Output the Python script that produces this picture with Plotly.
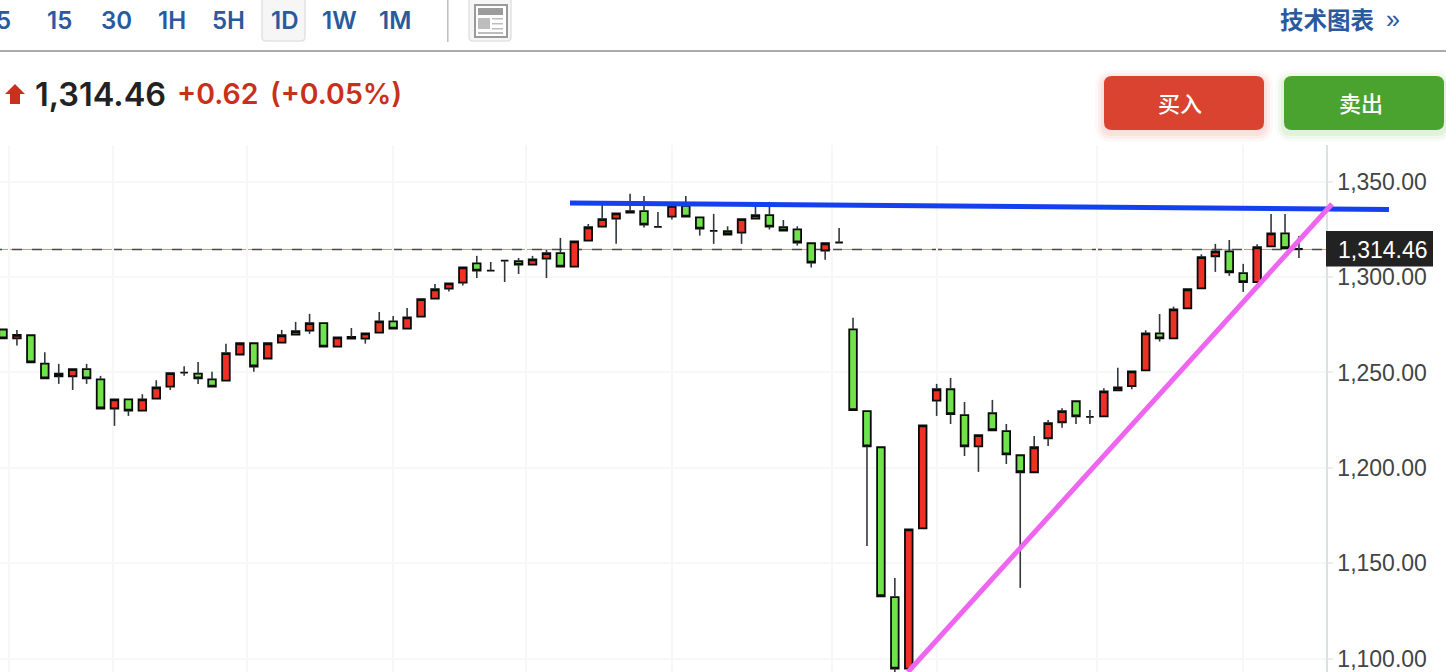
import plotly.graph_objects as go

W, H = 1446, 672

# ---------- data ----------
indices = list(range(94))
opens = [1272.5,1267.9,1269.5,1254.6,1249.4,1248.0,1251.7,1246.4,1231.1,1235.9,
         1230.0,1236.3,1242.6,1249.9,1249.4,1246.4,1245.7,1259.4,1265.3,1257.3,
         1265.6,1269.8,1271.9,1275.8,1263.5,1267.7,1267.7,1270.9,1276.8,1273.0,
         1279.3,1288.7,1293.9,1297.1,1307.2,1303.4,1308.6,1308.3,1306.5,1309.7,
         1312.5,1305.5,1319.1,1326.4,1330.6,1333.8,1334.5,1326.3,1331.7,1337.3,
         1331.3,1324.2,1324.0,1323.3,1330.6,1332.4,1326.1,1325.0,1317.7,1313.9,
         1318.1,1272.6,1229.7,1210.8,1132.2,1094.8,1168.3,1235.2,1241.2,1227.6,
         1211.3,1228.6,1219.2,1206.6,1197.7,1215.5,1223.9,1234.9,1226.7,1227.0,
         1240.6,1242.8,1251.1,1270.5,1267.9,1283.6,1294.1,1310.9,1313.5,1302.0,
         1297.3,1316.1,1322.9,1314.7]
highs = [1272.5,1272.3,1269.5,1260.6,1254.5,1251.7,1254.5,1248.2,1235.9,1235.9,
         1238.6,1245.9,1249.6,1253.2,1255.5,1250.3,1265.0,1265.3,1265.3,1265.3,
         1272.3,1276.5,1280.7,1275.8,1268.4,1273.3,1270.5,1281.7,1279.6,1283.8,
         1288.4,1296.4,1296.7,1305.1,1311.1,1307.9,1308.6,1310.0,1311.1,1314.2,
         1320.5,1318.7,1327.8,1337.8,1333.4,1343.6,1342.5,1334.1,1337.3,1342.5,
         1331.3,1333.1,1326.6,1330.3,1337.3,1339.4,1329.9,1326.6,1317.7,1317.7,
         1325.7,1278.6,1229.7,1210.8,1142.3,1167.8,1222.3,1244.0,1247.1,1234.5,
         1217.1,1235.6,1223.0,1206.6,1216.7,1225.1,1231.2,1234.9,1230.3,1241.7,
         1252.4,1250.6,1272.1,1280.6,1284.5,1293.6,1311.9,1317.4,1319.4,1306.9,
         1317.2,1333.1,1333.1,1321.5]
lows = [1267.9,1264.1,1255.3,1246.9,1244.0,1240.8,1244.0,1231.1,1222.0,1227.2,
        1230.0,1236.3,1240.8,1248.3,1244.0,1242.6,1245.7,1259.4,1250.3,1257.3,
        1265.6,1269.8,1270.2,1263.5,1263.5,1267.7,1265.1,1270.9,1273.0,1273.0,
        1279.3,1288.7,1292.4,1295.5,1299.5,1303.4,1297.4,1301.6,1306.5,1299.5,
        1305.5,1305.5,1319.1,1326.4,1317.4,1333.8,1325.9,1326.3,1330.1,1331.7,
        1321.7,1317.4,1322.3,1317.4,1330.6,1324.9,1324.3,1316.5,1305.0,1309.0,
        1318.1,1230.2,1159.1,1132.7,1093.0,1094.8,1168.3,1227.2,1223.0,1206.2,
        1197.9,1219.7,1202.0,1137.1,1197.7,1211.5,1221.0,1223.0,1223.0,1227.0,
        1240.6,1241.2,1251.1,1266.2,1267.9,1283.6,1294.1,1302.7,1300.6,1292.2,
        1297.3,1316.1,1315.1,1310.0]
closes = [1267.9,1269.7,1255.3,1246.9,1248.0,1251.7,1246.9,1231.1,1235.9,1230.0,
          1235.9,1242.2,1249.6,1249.9,1246.9,1242.6,1260.1,1265.3,1253.1,1265.3,
          1269.5,1271.6,1275.8,1263.5,1268.4,1268.6,1270.5,1276.8,1273.0,1278.9,
          1288.4,1293.6,1296.7,1305.1,1303.4,1303.4,1308.6,1306.5,1309.3,1312.5,
          1305.5,1318.7,1326.1,1330.3,1333.4,1334.5,1327.5,1326.3,1337.3,1331.7,
          1325.4,1324.2,1322.3,1330.3,1332.4,1326.4,1324.3,1318.1,1307.6,1317.7,
          1318.1,1230.2,1211.3,1132.7,1094.8,1167.8,1222.3,1241.2,1228.1,1211.3,
          1217.1,1219.7,1207.1,1197.7,1210.8,1223.4,1229.7,1227.0,1226.7,1240.1,
          1242.2,1250.6,1270.5,1267.9,1283.1,1293.6,1310.4,1313.5,1302.5,1297.3,
          1315.6,1322.9,1315.1,1314.7]

last_price = 1314.46
price_text = "1,314.46"
change_text = "+0.62"
pct_text = "(+0.05%)"
y_ticks = [1100, 1150, 1200, 1250, 1300, 1350]
x_grid = [0.43, 7.9, 17.5, 28, 37.5, 48, 59.5, 67, 78.5, 89]
blue_x, blue_y = [40.69, 99.46], [1338.8, 1335.4]
pink_x, pink_y = [64.94, 95.37], [1093.0, 1338.3]
intervals = ["5", "15", "30", "1H", "5H", "1D", "1W", "1M"]
interval_x = [3, 59, 116, 172, 228, 284, 339, 395]

# ---------- helpers ----------
def fx(x): return x / W
def fy(y): return 1 - y / H

def rrect(x0, y0, x1, y1, r, fill, line=None, lw=0):
    X0, X1, Y0, Y1 = fx(x0), fx(x1), fy(y0), fy(y1)
    rx, ry = r / W, r / H
    path = (f"M {X0+rx} {Y0} L {X1-rx} {Y0} Q {X1} {Y0} {X1} {Y0-ry} "
            f"L {X1} {Y1+ry} Q {X1} {Y1} {X1-rx} {Y1} L {X0+rx} {Y1} "
            f"Q {X0} {Y1} {X0} {Y1+ry} L {X0} {Y0-ry} Q {X0} {Y0} {X0+rx} {Y0} Z")
    return dict(type="path", path=path, xref="paper", yref="paper", fillcolor=fill,
                line=dict(color=line or "rgba(0,0,0,0)", width=lw), layer="above")

def rect(x0, y0, x1, y1, fill):
    return dict(type="rect", xref="paper", yref="paper", x0=fx(x0), x1=fx(x1), y0=fy(y0), y1=fy(y1),
                fillcolor=fill, line=dict(width=0), layer="above")

def text(s, x, y, size, color, family="Inter", weight=400, anchor="center"):
    return dict(text=s, x=fx(x), y=fy(y), xref="paper", yref="paper", showarrow=False,
                xanchor=anchor, yanchor="middle",
                font=dict(family=family, size=size, color=color, weight=weight))

# ---------- traces ----------
body_high = [max(o, c) for o, c in zip(opens, closes)]
body_low = [min(o, c) for o, c in zip(opens, closes)]

# wicks stop at the body, because scatter lines are painted over candlesticks
wick_x, wick_y = [], []
for i, h, l, bh, bl in zip(indices, highs, lows, body_high, body_low):
    if h > bh:
        wick_x += [i, i, None]
        wick_y += [bh, h, None]
    if l < bl:
        wick_x += [i, i, None]
        wick_y += [l, bl, None]

fig = go.Figure()
fig.add_trace(go.Scatter(x=wick_x, y=wick_y, mode="lines", hoverinfo="skip", showlegend=False,
                         line=dict(color="#31383d", width=1.6)))
fig.add_trace(go.Candlestick(x=indices, open=opens, high=body_high, low=body_low, close=closes,
                             showlegend=False, whiskerwidth=0,
                             increasing=dict(fillcolor="#ee3124", line=dict(color="#0a0a0a", width=1.8)),
                             decreasing=dict(fillcolor="#6fe24c", line=dict(color="#0a0a0a", width=1.8))))
fig.add_trace(go.Scatter(x=blue_x, y=blue_y, mode="lines", xaxis="x2", yaxis="y2", showlegend=False,
                         line=dict(color="#1440f0", width=5)))
fig.add_trace(go.Scatter(x=pink_x, y=pink_y, mode="lines", xaxis="x2", yaxis="y2", showlegend=False,
                         line=dict(color="#ee66f0", width=5)))

axis_right = 1326
y_range = [1093.0, 1369.2]
x_left = -0.215
x_per_px = 1 / 13.935
dom_y = [0, 1 - 145 / H]

grid = "#f7f7f8"
blue_txt = "#2a5a9e"

shapes = [
    # last price guide
    dict(type="line", xref="x domain", yref="y", x0=0, x1=1, y0=last_price, y1=last_price,
         line=dict(color="#e2897c", width=1), layer="below"),
    dict(type="line", xref="x domain", yref="y", x0=-8 / axis_right, x1=1, y0=last_price, y1=last_price,
         line=dict(color="#4a4a4a", width=1.4, dash="10px,10px"), layer="below"),
    # toolbar
    rect(0, 50, W, 52, "#ababab"),
    rrect(262, -4, 305, 41, 4, "#f6f6f6", "#e2e2e2", 1.5),
    rect(447, 0, 448.6, 42, "#c0c0c0"),
    rrect(469, -4, 511, 41, 4, "#f6f6f6", "#e2e2e2", 1.5),
    # icon
    rect(474, 4, 508, 38, "#9a9a9a"),
    rect(476, 6, 506, 36, "#ffffff"),
    rect(478, 8, 503, 15, "#9c9c9c"),
    rect(478, 18, 490, 29, "#bdbdbd"),
    rect(492, 18, 503, 19.5, "#bdbdbd"),
    rect(492, 23, 503, 24.5, "#bdbdbd"),
    rect(492, 28, 503, 29.5, "#bdbdbd"),
    rect(478, 32, 503, 34, "#bdbdbd"),
    # last price box
    rect(1326, 231, 1433, 266.5, "#222222"),
]
# arrow
ax = [15, 25, 20, 20, 10, 10, 5]
ay = [84, 94, 94, 104, 104, 94, 94]
shapes.append(dict(type="path", xref="paper", yref="paper", layer="above", fillcolor="#cc2f1c",
                   line=dict(width=0),
                   path="M " + " L ".join(f"{fx(a)} {fy(b)}" for a, b in zip(ax, ay)) + " Z"))
# button shadows and buttons
for grow, alpha in [(9, 0.035), (6, 0.05), (3, 0.07)]:
    shapes.append(rrect(1104 - grow, 76 - grow + 3, 1264 + grow, 130 + grow + 3, 8 + grow, f"rgba(217,67,48,{alpha})"))
    shapes.append(rrect(1284 - grow, 76 - grow + 3, 1444 + grow, 130 + grow + 3, 8 + grow, f"rgba(75,163,47,{alpha})"))
shapes.append(rrect(1104, 76, 1264, 130, 8, "#d94330"))
shapes.append(rrect(1284, 76, 1444, 130, 8, "#4ba32f"))

annotations = [text(s, x, 20, 24, blue_txt, weight=600) for s, x in zip(intervals, interval_x)]
annotations += [
    text("技术图表", 1326.5, 19.5, 23.5, blue_txt, family="Noto Sans CJK SC", weight=700),
    text("»", 1393, 19, 25, blue_txt, family="Liberation Sans"),
    text(price_text, 33, 94.5, 32.5, "#222222", weight=600, anchor="left"),
    text(change_text, 175, 94, 28.5, "#c9301c", weight=600, anchor="left"),
    text(pct_text, 268, 94, 28.5, "#c9301c", weight=600, anchor="left"),
    text("买入", 1180, 102, 22, "#ffffff", family="Noto Sans CJK SC", weight=500),
    text("卖出", 1361, 102, 22, "#ffffff", family="Noto Sans CJK SC", weight=500),
    text(price_text, 1382.5, 250, 23, "#ffffff", family="Liberation Sans"),
]

fig.update_layout(
    width=W, height=H, autosize=False, paper_bgcolor="white", plot_bgcolor="rgba(0,0,0,0)",
    boxgap=0.22,
    margin=dict(l=0, r=0, t=0, b=0), showlegend=False, shapes=shapes, annotations=annotations,
    xaxis=dict(domain=[0, axis_right / W], range=[x_left, x_left + axis_right * x_per_px],
               rangeslider=dict(visible=False), tickmode="array", tickvals=x_grid,
               showticklabels=False, ticks="", showgrid=True, gridcolor=grid, gridwidth=1.5,
               zeroline=False, showline=False),
    yaxis=dict(domain=dom_y, range=y_range, side="right", tickmode="array", tickvals=y_ticks,
               tickformat=",.2f", ticks="outside", ticklen=5, tickcolor="#eeeeee", tickwidth=1.5,
               showgrid=True, gridcolor=grid, gridwidth=1.5, zeroline=False, showline=True,
               linecolor="#dde1e6", linewidth=1.5,
               tickfont=dict(family="Liberation Sans", size=23, color="#444444")),
    xaxis2=dict(domain=[0, 1], range=[x_left, x_left + W * x_per_px], visible=False, anchor="y2"),
    yaxis2=dict(domain=dom_y, range=y_range, visible=False, anchor="x2"),
)

fig.write_html("out.html", config=dict(displayModeBar=False),
               post_script="document.body.style.margin='0';document.body.style.overflow='hidden';")
